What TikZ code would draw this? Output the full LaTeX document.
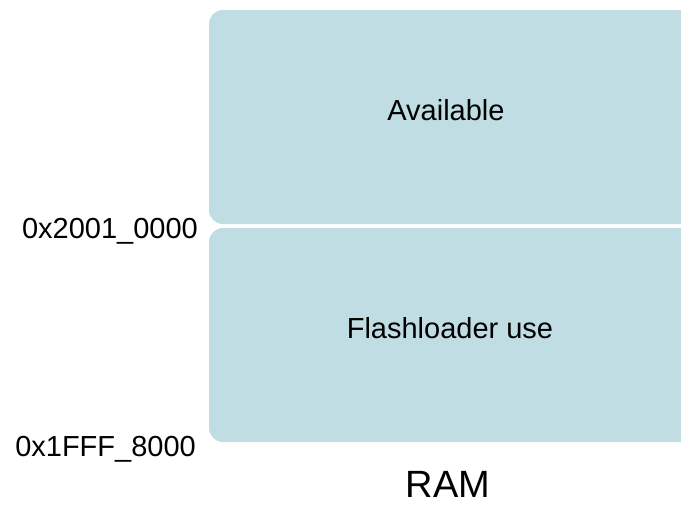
\documentclass[tikz,border=0pt]{standalone}
\usepackage{fontspec}
\setmainfont{Liberation Sans}
\definecolor{ramblue}{RGB}{192,221,228}
\begin{document}
\begin{tikzpicture}[x=1pt,y=-1pt,
  region/.style={fill=ramblue,draw=none,rounded corners=14pt},
  lbl/.style={inner sep=0pt,font=\fontsize{29}{35}\selectfont},
  addr/.style={inner sep=0pt,anchor=base east,font=\fontsize{29}{35}\selectfont}]
\useasboundingbox (0,0) rectangle (681,506);
\fill[region] (209,10) rectangle (700,224);
\fill[region] (209,228) rectangle (700,442);
\node[lbl,anchor=base] (avail) at (446,120) {Available};
\node[lbl,anchor=base] (flash) at (450,338) {Flashloader use};
\node[addr] (a1) at (198,238) {0x2001\_0000};
\node[addr] (a2) at (196,456) {0x1FFF\_8000};
\node[inner sep=0pt,text depth=0pt,anchor=base,font=\fontsize{38}{44}\selectfont] (ram) at (448,497) {RAM};
\end{tikzpicture}
\end{document}
